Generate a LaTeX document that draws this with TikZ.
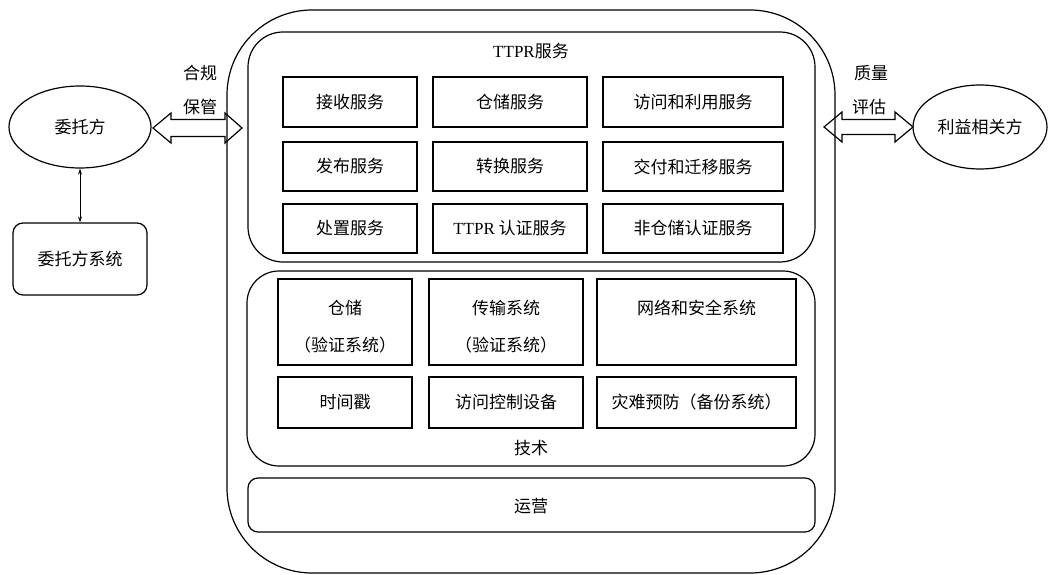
\documentclass[tikz,border=0pt]{standalone}
\usepackage{fontspec}
\setmainfont{Liberation Serif}
\newfontfamily\cjk{Noto Sans CJK SC}
\usetikzlibrary{shapes.geometric,calc,arrows.meta}
\begin{document}
\begin{tikzpicture}[x=1pt,y=-1pt,
  every node/.style={font=\cjk\fontsize{17}{19}\selectfont, inner sep=0pt},
  ln/.style={line width=1.2pt},
  svc/.style={draw, ln, rectangle},
  ell/.style={draw, ln, ellipse},
  blockarrow/.style={draw, ln, fill=white, line join=miter}]
\useasboundingbox (0,0) rectangle (1049,575);

% ---- double block arrows (drawn before the outer box)
\coordinate (la1) at (153,128);
\coordinate (la2) at (242,128);
\draw[blockarrow] (la1) -- ($(la1)+(18,-15)$) -- ($(la1)+(18,-8.5)$) -- ($(la2)+(-17,-8.5)$) -- ($(la2)+(-17,-15)$) -- (la2)
  -- ($(la2)+(-17,15)$) -- ($(la2)+(-17,8.5)$) -- ($(la1)+(18,8.5)$) -- ($(la1)+(18,15)$) -- cycle;
\coordinate (ra1) at (824,127);
\coordinate (ra2) at (913,127);
\draw[blockarrow] (ra1) -- ($(ra1)+(18,-15)$) -- ($(ra1)+(18,-7.5)$) -- ($(ra2)+(-18,-7.5)$) -- ($(ra2)+(-18,-15)$) -- (ra2)
  -- ($(ra2)+(-18,15)$) -- ($(ra2)+(-18,7.5)$) -- ($(ra1)+(18,7.5)$) -- ($(ra1)+(18,15)$) -- cycle;

% ---- outer frame
\draw[ln, rounded corners=85] (227,10) rectangle (835,573);

% ---- TTPR services
\draw[ln, rounded corners=35] (248,32) rectangle (815,262);
\node (ttpr) at (531,51) {{\rmfamily TTPR}服务};
\node[svc, minimum width=134, minimum height=50] (s11) at (350,102) {接收服务};
\node[svc, minimum width=154, minimum height=50] (s12) at (510,102) {仓储服务};
\node[svc, minimum width=180, minimum height=50] (s13) at (693,102) {访问和利用服务};
\node[svc, minimum width=134, minimum height=49] (s21) at (350,166.5) {发布服务};
\node[svc, minimum width=154, minimum height=49] (s22) at (510,166.5) {转换服务};
\node[svc, minimum width=180, minimum height=49] (s23) at (693,166.5) {交付和迁移服务};
\node[svc, minimum width=134, minimum height=49] (s31) at (350,228.5) {处置服务};
\node[svc, minimum width=154, minimum height=49] (s32) at (510,228.5) {{\rmfamily TTPR} 认证服务};
\node[svc, minimum width=180, minimum height=49] (s33) at (693,228.5) {非仓储认证服务};

% ---- technology
\draw[ln, rounded corners=32] (247,271) rectangle (815,466);
\node[svc, minimum width=134, minimum height=86] (t11) at (345,322) {};
\node[svc, minimum width=154, minimum height=86] (t12) at (506,322) {};
\node[svc, minimum width=199, minimum height=86] (t13) at (696.5,322) {};
\node (t11a) at (345,308) {仓储};
\node (t11b) at (345,345) {（验证系统）};
\node (t12a) at (506,308) {传输系统};
\node (t12b) at (506,345) {（验证系统）};
\node (t13a) at (696.5,308) {网络和安全系统};
\node[svc, minimum width=134, minimum height=51] (t21) at (345,402.5) {时间戳};
\node[svc, minimum width=154, minimum height=51] (t22) at (506,402.5) {访问控制设备};
\node[svc, minimum width=199, minimum height=51] (t23) at (696.5,402.5) {灾难预防（备份系统）};
\node (tech) at (531,448) {技术};

% ---- operations
\draw[ln, rounded corners=10] (248,478) rectangle (815,532);
\node (ops) at (531,506) {运营};

% ---- left side
\node[ell, minimum width=142, minimum height=82] (wt) at (80,127) {委托方};
\node[svc, rounded corners=10, minimum width=134, minimum height=72] (wts) at (80,259) {委托方系统};
\draw[line width=0.8pt, {Stealth[length=6pt,width=4pt]}-{Stealth[length=6pt,width=4pt]}] (wt.south) -- (wts.north);
\node (hg) at (200,73) {合规};
\node (bg) at (200,107) {保管};

% ---- right side
\node[ell, minimum width=134, minimum height=84] (lx) at (980,127) {利益相关方};
\node (zl) at (871,73) {质量};
\node (pg) at (869,107) {评估};
\end{tikzpicture}
\end{document}
